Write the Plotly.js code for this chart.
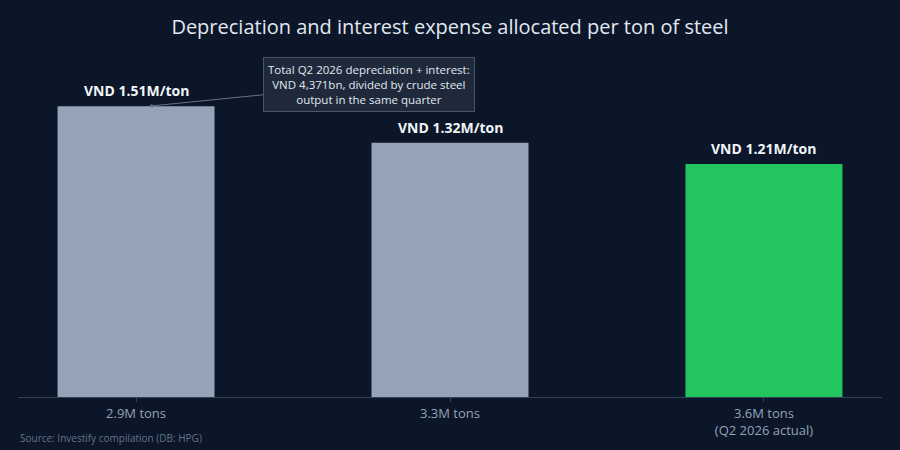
<!DOCTYPE html>
<html>
<head>
<meta charset="utf-8">
<script src="https://cdn.plot.ly/plotly-3.0.1.min.js"></script>
<style>
  html, body { margin: 0; padding: 0; background: #0b1628; }
  #chart { width: 900px; height: 450px; }
</style>
</head>
<body>
<div id="chart"></div>
<script>
// Output scenarios and the cost allocated per ton (million VND)
const categories = ['2.9M tons', '3.3M tons', '3.6M tons<br>(Q2 2026 actual)'];
const costPerTon = [1.51, 1.32, 1.21];
const valueLabels = ['VND 1.51M/ton', 'VND 1.32M/ton', 'VND 1.21M/ton'];
const barColors = ['#94a3b8', '#94a3b8', '#22c55e'];

const trace = {
    x: categories,
    y: costPerTon,
    type: 'bar',
    width: 0.5,
    marker: { color: barColors },
    hoverinfo: 'skip'
};

// value labels above each bar
const labelNotes = categories.map((c, i) => ({
    x: c,
    y: costPerTon[i],
    xref: 'x',
    yref: 'y',
    text: '<b>' + valueLabels[i] + '</b>',
    showarrow: false,
    yanchor: 'bottom',
    yshift: 4,
    font: { family: 'Open Sans', size: 14, color: '#f1f5f9' }
}));

const layout = {
    width: 900,
    height: 450,
    paper_bgcolor: '#0b1628',
    plot_bgcolor: '#0b1628',
    font: { family: 'Open Sans', color: '#94a3b8' },
    title: {
        text: 'Depreciation and interest expense allocated per ton of steel',
        font: { family: 'Open Sans', size: 20, color: '#e2e8f0' },
        x: 0.5,
        xanchor: 'center',
        y: 0.94,
        yanchor: 'middle'
    },
    margin: { l: 18, r: 18, t: 60, b: 53 },
    showlegend: false,
    xaxis: {
        type: 'category',
        range: [-0.376, 2.376],
        showline: true,
        linecolor: '#334155',
        linewidth: 1,
        ticks: 'outside',
        ticklen: 4,
        tickcolor: '#334155',
        tickfont: { family: 'Open Sans', size: 13, color: '#94a3b8' },
        showgrid: false,
        zeroline: false
    },
    yaxis: {
        range: [0, 1.75],
        visible: false,
        showgrid: false,
        zeroline: false
    },
    annotations: labelNotes.concat([
        {
            x: 0.04,
            y: 1.51,
            xref: 'x',
            yref: 'y',
            ax: 220,
            ay: -22,
            text: 'Total Q2 2026 depreciation + interest:<br>VND 4,371bn, divided by crude steel<br>output in the same quarter',
            showarrow: true,
            arrowhead: 2,
            arrowsize: 0.8,
            arrowwidth: 1,
            arrowcolor: '#64748b',
            font: { family: 'Open Sans', size: 11.5, color: '#e2e8f0' },
            align: 'center',
            bgcolor: '#1e293b',
            bordercolor: '#475569',
            borderwidth: 1,
            borderpad: 4
        },
        {
            x: 0,
            y: 0,
            xref: 'paper',
            yref: 'paper',
            yshift: -32,
            xanchor: 'left',
            yanchor: 'top',
            text: 'Source: Investify compilation (DB: HPG)',
            showarrow: false,
            font: { family: 'Open Sans', size: 10, color: '#64748b' }
        }
    ])
};

Plotly.newPlot('chart', [trace], layout, { displayModeBar: false, staticPlot: true });
</script>
</body>
</html>
